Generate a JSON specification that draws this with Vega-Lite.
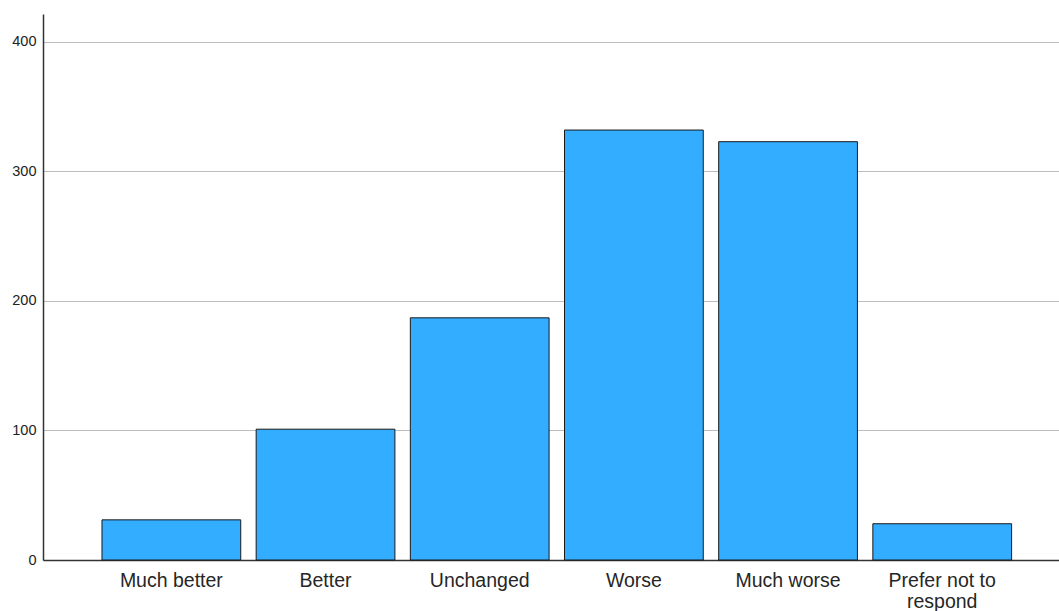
{
  "$schema": "https://vega.github.io/schema/vega-lite/v6.json",
  "width": 1016,
  "height": 546,
  "autosize": {"type": "none"},
  "padding": {"left": 43, "top": 14, "right": 0, "bottom": 51},
  "background": "white",
  "config": {"view": {"stroke": null}, "font": "Liberation Sans"},
  "data": {"values": [
    {"category": "Much better", "count": 31},
    {"category": "Better", "count": 101},
    {"category": "Unchanged", "count": 187},
    {"category": "Worse", "count": 332},
    {"category": "Much worse", "count": 323},
    {"category": "Prefer not to respond", "count": 28}
  ]},
  "mark": {"type": "bar", "fill": "#33adff", "stroke": "#1a1a1a", "strokeWidth": 1},
  "encoding": {
    "x": {
      "field": "category", "type": "nominal", "sort": null,
      "scale": {"paddingInner": 0.1, "paddingOuter": 0.345, "align": 0.5545},
      "axis": {
        "title": null, "labelAngle": 0, "ticks": false, "domainColor": "#333333", "domainWidth": 1.5,
        "labelFontSize": 19.5, "labelColor": "#262626", "labelPadding": 11,
        "labelExpr": "datum.label == 'Prefer not to respond' ? ['Prefer not to', 'respond'] : datum.label",
        "labelLineHeight": 21, "grid": false
      }
    },
    "y": {
      "field": "count", "type": "quantitative",
      "scale": {"domain": [0, 421.6], "nice": false},
      "axis": {
        "title": null, "values": [0, 100, 200, 300, 400], "ticks": false,
        "domainColor": "#333333", "domainWidth": 1.5,
        "labelFontSize": 14.5, "labelColor": "#222222", "labelPadding": 7,
        "grid": true, "gridColor": "#bdbdbd", "gridWidth": 1
      }
    }
  }
}
